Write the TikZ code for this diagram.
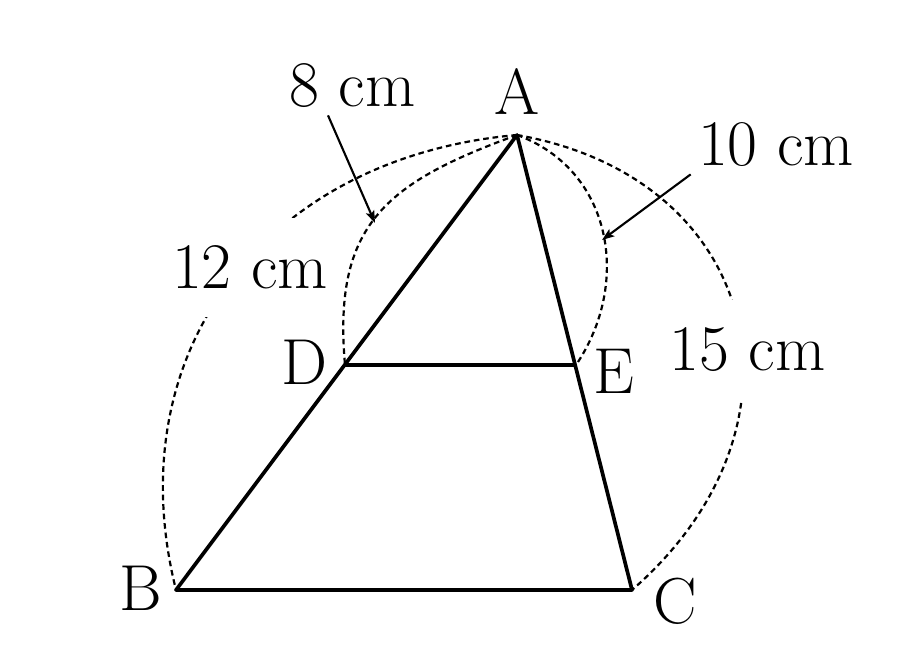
\documentclass[tikz,border=0pt]{standalone}
\usepackage{tikz}
\usetikzlibrary{positioning,arrows.meta}

\tikzset{
  lbl/.style={font=\fontsize{37}{44}\selectfont, inner sep=4pt},
  cmlbl/.style={lbl, fill=white, inner xsep=6pt, inner ysep=16pt},
  arcline/.style={line width=1.25pt, dash pattern=on 3.2pt off 2.2pt},
  side/.style={line width=2.1pt, line join=round},
  pointer/.style={-{Stealth[length=7pt,width=5pt,inset=1.5pt]}, line width=1.2pt}
}

\begin{document}
\begin{tikzpicture}
                \useasboundingbox (0,0) rectangle (18.4,13);

                \coordinate (A) at (10.34,10.30);
                \coordinate (B) at (3.52,1.20);
                \coordinate (C) at (12.64,1.20);
                \coordinate (D) at (6.90,5.70);
                \coordinate (E) at (11.52,5.70);

                \draw[arcline] (A) to[out=185,in=104,looseness=1.12] (B);
                \draw[arcline] (A) to[out=-10,in=41,looseness=1.36] (C);

                \node[cmlbl] (l12) at (5.00,7.65)  {12 cm};
                \node[cmlbl] (l15) at (14.95,6.00) {15 cm};

                \draw[arcline] (A) to[out=200,in=95,looseness=1.25] (D);
                \draw[arcline] (A) to[out=-20,in=56,looseness=1.08] (E);

                \draw[side] (A) -- (B) -- (C) -- cycle;
                \draw[side] (D) -- (E);

                \node[lbl] (lA) at (10.35,11.17) {A};
                \node[lbl] (lB) at (2.82,1.23)   {B};
                \node[lbl] (lC) at (13.50,0.97)  {C};
                \node[lbl] (lD) at (6.09,5.75)   {D};
                \node[lbl] (lE) at (12.28,5.57)  {E};

                \node[lbl] (l8)  at (7.05,11.28)  {8 cm};
                \node[lbl] (l10) at (15.52,10.10) {10 cm};

                \coordinate (p8)  at (7.50,8.54);
                \coordinate (p10) at (12.04,8.20);

                \draw[pointer] ([xshift=-0.49cm]l8.south) -- (p8);
                \draw[pointer] (l10.south west) -- (p10);
\end{tikzpicture}
\end{document}
